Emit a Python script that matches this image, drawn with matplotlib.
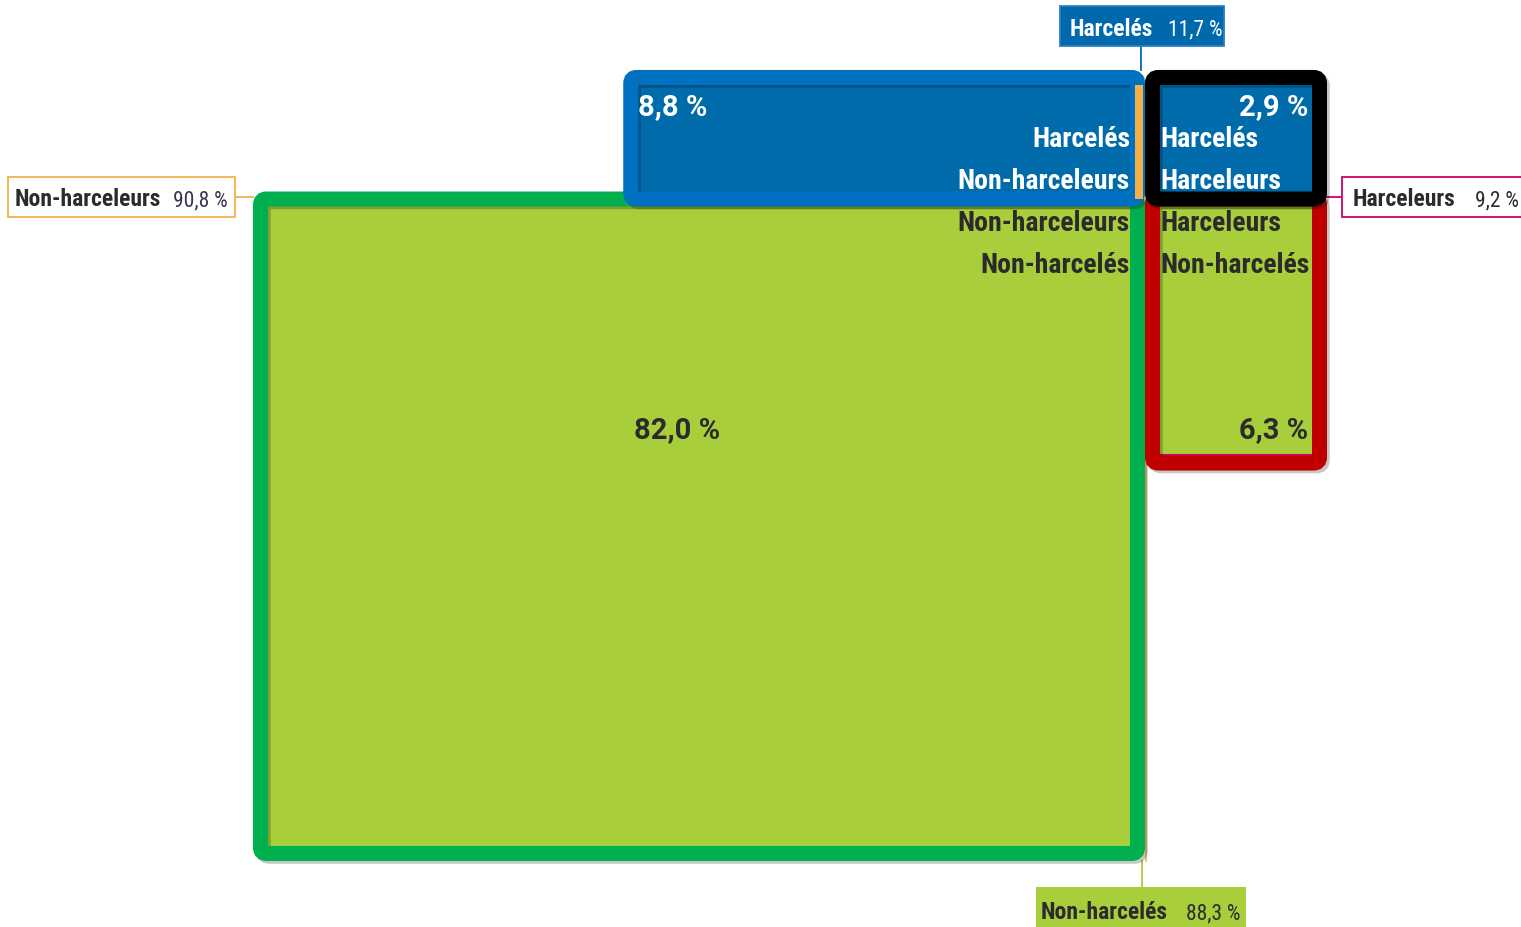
import matplotlib.pyplot as plt
from matplotlib.patches import Rectangle, FancyBboxPatch
import matplotlib.patheffects as pe

# Harcèlement à l'école : répartition des élèves (%)
colonnes = ['Non-harceleurs', 'Harceleurs']
total_colonnes = [90.8, 9.2]
lignes = ['Harcelés', 'Non-harcelés']
total_lignes = [11.7, 88.3]
harceles = [8.8, 2.9]        # ligne "Harcelés", par colonne
non_harceles = [82.0, 6.3]   # ligne "Non-harcelés", par colonne

FONT = ['Roboto Condensed', 'DejaVu Sans']
FONT_CHIFFRES = ['Roboto', 'DejaVu Sans']

BLEU, BLEU_CADRE = '#006BAB', '#0070C0'
VERT, VERT_CADRE = '#A9CE3B', '#00B04F'
ROUGE, NOIR = '#C00000', '#000000'
ORANGE, ROSE = '#F5B04A', '#CC0066'
TEXTE = '#2b2b2b'


def pct(v):
    return f'{v:.1f} %'.replace('.', ',')


# mise en page (pixels) : surface des cases proportionnelle aux pourcentages
K = 7000            # px² par point de pourcentage
Y_SEP = 200         # séparation harcelés / non-harcelés
X_G = 1137.5        # bord droit de la colonne non-harceleurs
X_D = 1152.5        # bord gauche de la colonne harceleurs
L_G = 877
L_D = 167
EP = 15             # épaisseur des cadres
LW = EP * 72 / 100

h_haut = harceles[1] * K / L_D
w_88 = harceles[0] * K / h_haut
h_82 = non_harceles[0] * K / L_G
h_63 = non_harceles[1] * K / L_D

fig = plt.figure(figsize=(15.21, 9.28), dpi=100)
ax = fig.add_axes([0, 0, 1, 1])
ax.set_xlim(0, 1521)
ax.set_ylim(928, 0)
ax.axis('off')

ombre = [pe.SimpleLineShadow(offset=(2, -2), shadow_color='k', alpha=0.22), pe.Normal()]


def case(x, y, w, h, fond, cadre, z):
    ax.add_patch(Rectangle((x, y), w, h, fc=fond, ec='none', zorder=z))
    ax.add_patch(FancyBboxPatch((x, y), w, h, boxstyle='round,pad=0,rounding_size=6',
                                fc='none', ec=cadre, lw=LW, zorder=z + 0.5,
                                path_effects=ombre))


# cases
case(X_G - L_G, Y_SEP, L_G, h_82, VERT, VERT_CADRE, 1)
case(X_D, Y_SEP, L_D, h_63, VERT, ROUGE, 1)
case(X_G - w_88, Y_SEP - h_haut, w_88, h_haut, BLEU, BLEU_CADRE, 3)

# bords des colonnes
ax.add_patch(Rectangle((X_G - 2.5, Y_SEP - h_haut + EP / 2), 8, h_haut - EP / 2,
                       fc=ORANGE, ec='none', zorder=3.7))
ax.plot([X_G + EP / 2 + 1, X_G + EP / 2 + 1], [Y_SEP, Y_SEP + h_82 + EP / 2],
        color=ORANGE, lw=1.2, zorder=1.2)
ax.plot([X_D + EP / 2, X_D + L_D - EP / 2], [Y_SEP + h_63 - EP / 2 - 1] * 2,
        color=ROSE, lw=1.5, zorder=1.2)

case(X_D, Y_SEP - h_haut, L_D, h_haut, BLEU, NOIR, 5)

# textes dans les cases
gras = dict(family=FONT, weight='bold', fontsize=20, va='baseline', zorder=8)
chiffre = dict(family=FONT_CHIFFRES, weight='bold', fontsize=21, va='baseline', zorder=8)
xg_txt = X_G - EP / 2
xd_txt = X_D + EP / 2

ax.text(X_G - w_88 + EP / 2, Y_SEP - 85, pct(harceles[0]), color='white', ha='left', **chiffre)
ax.text(xg_txt, Y_SEP - 53, lignes[0], color='white', ha='right', **gras)
ax.text(xg_txt, Y_SEP - 11, colonnes[0], color='white', ha='right', **gras)

ax.text(X_D + L_D - EP / 2 - 4, Y_SEP - 85, pct(harceles[1]), color='white', ha='right', **chiffre)
ax.text(xd_txt, Y_SEP - 53, lignes[0], color='white', ha='left', **gras)
ax.text(xd_txt, Y_SEP - 11, colonnes[1], color='white', ha='left', **gras)

ax.text(xg_txt, Y_SEP + 31, colonnes[0], color=TEXTE, ha='right', **gras)
ax.text(xg_txt, Y_SEP + 73, lignes[1], color=TEXTE, ha='right', **gras)
ax.text(xd_txt, Y_SEP + 31, colonnes[1], color=TEXTE, ha='left', **gras)
ax.text(xd_txt, Y_SEP + 73, lignes[1], color=TEXTE, ha='left', **gras)

ax.text(X_G - L_G + 0.475 * L_G, Y_SEP + 0.364 * h_82, pct(non_harceles[0]),
        color=TEXTE, ha='center', **chiffre)
ax.text(X_D + L_D - EP / 2 - 4, Y_SEP + h_63 - 26, pct(non_harceles[1]),
        color=TEXTE, ha='right', **chiffre)


# étiquettes des totaux
def etiquette(x0, y0, w, h, fond, bord, nom, val, c_nom, c_val, dx_nom, dx_val):
    ax.add_patch(Rectangle((x0, y0), w, h, fc=fond, ec=bord, lw=1.3, zorder=6,
                           clip_on=False))
    yb = y0 + h / 2 + 8.5
    ax.text(x0 + dx_nom, yb, nom, family=FONT, weight='bold', fontsize=17,
            color=c_nom, va='baseline', ha='left', zorder=7)
    ax.text(x0 + dx_val, yb, pct(val), family=FONT, fontsize=15.5,
            color=c_val, va='baseline', ha='left', zorder=7)


haut_noir = Y_SEP - h_haut - EP / 2
etiquette(1060, 7, 164, 40, '#0068AD', '#2a80c0', lignes[0], total_lignes[0],
          'white', 'white', 10, 108)
ax.plot([1141, 1141], [47, haut_noir], color='#0068AD', lw=1.3, zorder=5.8)

gauche_vert = X_G - L_G - EP / 2
etiquette(8, 178, 227, 40, 'white', ORANGE, colonnes[0], total_colonnes[0],
          TEXTE, '#3b3355', 7, 165)
ax.plot([235, gauche_vert], [198, 198], color=ORANGE, lw=1.3, zorder=0.5)

droite_rouge = X_D + L_D + EP / 2
etiquette(1342, 178, 200, 40, 'white', ROSE, colonnes[1], total_colonnes[1],
          TEXTE, TEXTE, 11, 133)
ax.plot([droite_rouge, 1342], [198, 198], color=ROSE, lw=1.3, zorder=0.5)

bas_vert = Y_SEP + h_82 + EP / 2
etiquette(1036, 888, 210, 45, VERT, 'none', lignes[1], total_lignes[1],
          TEXTE, TEXTE, 5, 150)
ax.plot([1142, 1142], [bas_vert, 888], color=VERT, lw=1.3, zorder=0.5)

fig.savefig('out.png', dpi=100, facecolor='white')
